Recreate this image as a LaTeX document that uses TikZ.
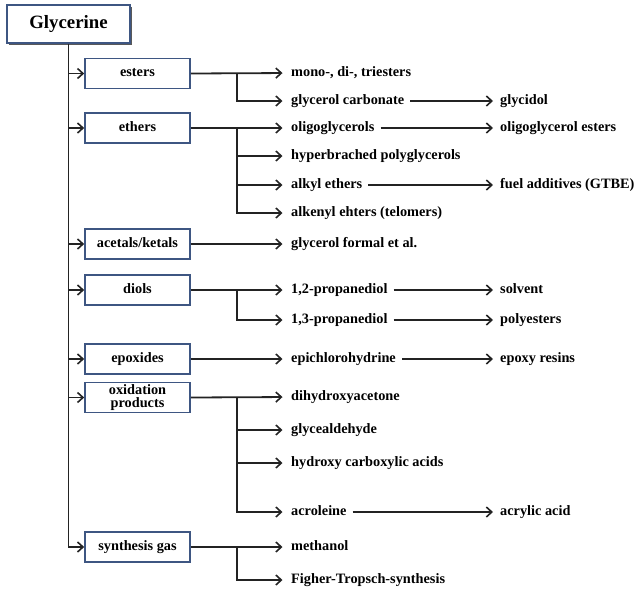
\documentclass[tikz,border=0pt]{standalone}
\usepackage{fontspec}
\setmainfont{Liberation Serif}
\usetikzlibrary{arrows.meta,shadows}
\definecolor{boxblue}{RGB}{62,86,130}
\definecolor{lnk}{RGB}{35,35,35}
\begin{document}
\begin{tikzpicture}[x=1pt,y=-1pt,
  font=\bfseries\fontsize{14.3}{13}\selectfont,
  catbase/.style={draw=boxblue, line width=1.6pt, fill=white, minimum width=105pt, minimum height=30pt, inner sep=0pt, align=center},
  cat/.style={catbase, text height=9.5pt, text depth=3pt},
  item/.style={anchor=west, inner sep=0pt, text height=9.5pt, text depth=3pt},
  ln/.style={line width=1.8pt, draw=lnk},
  conn/.style={ln, -{Straight Barb[length=5.5pt,width=10pt,line width=1.6pt]}},
  toitem/.style={conn, shorten >=8.5pt},
  chain/.style={conn, shorten <=6pt, shorten >=7pt}
]
\useasboundingbox (0,0) rectangle (638,592);

% root
\node[draw=boxblue, line width=1.7pt, fill=white, minimum width=123pt, minimum height=38pt, inner sep=0pt,
  drop shadow={shadow xshift=2.2pt, shadow yshift=-2.2pt, fill=black!65, opacity=1},
  font=\bfseries\fontsize{18.8}{20}\selectfont] (gly) at (68.5,24) {Glycerine};

% categories
\node[cat] (est) at (137.5,73.5) {esters};
\node[cat] (eth) at (137.5,128) {ethers};
\node[cat] (ace) at (137.5,244) {acetals/ketals};
\node[cat] (dio) at (137.5,290) {diols};
\node[cat] (epo) at (137.5,359) {epoxides};
\node[catbase] (oxi) at (137.5,397.5) {oxidation\\products};
\node[cat] (syn) at (137.5,547) {synthesis gas};

% main trunk
\draw[conn] (gly.south) |- (syn.west);
\foreach \c in {est,eth,ace,dio,epo,oxi}
  \draw[conn] (gly.south |- \c.west) -- (\c.west);

% second column
\node[item] (mono) at (291,73) {mono-, di-, triesters};
\node[item] (gcarb) at (291,101) {glycerol carbonate};
\node[item] (oligo) at (291,128) {oligoglycerols};
\node[item] (hyper) at (291,156) {hyperbrached polyglycerols};
\node[item] (alkyl) at (291,185) {alkyl ethers};
\node[item] (alken) at (291,213) {alkenyl ehters (telomers)};
\node[item] (form) at (291,244) {glycerol formal et al.};
\node[item] (pd12) at (291,290) {1,2-propanediol};
\node[item] (pd13) at (291,320) {1,3-propanediol};
\node[item] (epi) at (291,359) {epichlorohydrine};
\node[item] (dha) at (291,397) {dihydroxyacetone};
\node[item] (gald) at (291,430) {glycealdehyde};
\node[item] (hca) at (291,463) {hydroxy carboxylic acids};
\node[item] (acro) at (291,512) {acroleine};
\node[item] (meth) at (291,547) {methanol};
\node[item] (ft) at (291,580) {Figher-Tropsch-synthesis};

% third column
\node[item] (glyd) at (500,101) {glycidol};
\node[item] (oest) at (500,128) {oligoglycerol esters};
\node[item] (fuel) at (500,185) {fuel additives (GTBE)};
\node[item] (solv) at (500,290) {solvent};
\node[item] (poly) at (500,320) {polyesters};
\node[item] (epr) at (500,359) {epoxy resins};
\node[item] (acry) at (500,512) {acrylic acid};

% branch points
\coordinate (bEst) at (237,73.5);
\coordinate (bEth) at (237,128);
\coordinate (bDio) at (237,290);
\coordinate (bOxi) at (237,397.5);
\coordinate (bSyn) at (237,547);

% category -> products
\draw[toitem] (est.east) -- (mono.west);
\draw[toitem] (bEst) |- (gcarb.west);
\draw[toitem] (eth.east) -- (oligo.west);
\draw[toitem] (bEth) |- (hyper.west);
\draw[toitem] (bEth) |- (alkyl.west);
\draw[toitem] (bEth) |- (alken.west);
\draw[toitem] (ace.east) -- (form.west);
\draw[toitem] (dio.east) -- (pd12.west);
\draw[toitem] (bDio) |- (pd13.west);
\draw[toitem] (epo.east) -- (epi.west);
\draw[toitem] (oxi.east) -- (dha.west);
\draw[toitem] (bOxi) |- (gald.west);
\draw[toitem] (bOxi) |- (hca.west);
\draw[toitem] (bOxi) |- (acro.west);
\draw[toitem] (syn.east) -- (meth.west);
\draw[toitem] (bSyn) |- (ft.west);

% product -> product
\draw[chain] (gcarb.east) -- (glyd.west);
\draw[chain] (oligo.east) -- (oest.west);
\draw[chain] (alkyl.east) -- (fuel.west);
\draw[chain] (pd12.east) -- (solv.west);
\draw[chain] (pd13.east) -- (poly.west);
\draw[chain] (epi.east) -- (epr.west);
\draw[chain] (acro.east) -- (acry.west);
\end{tikzpicture}
\end{document}
